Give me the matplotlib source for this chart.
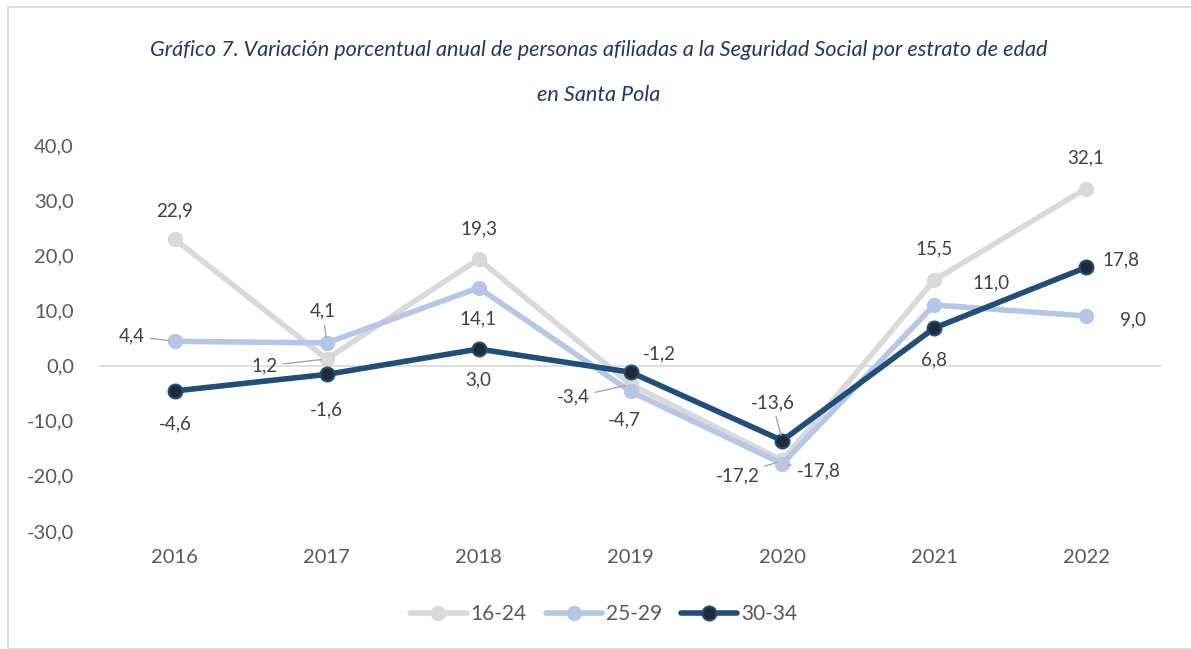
import numpy as np
import matplotlib.pyplot as plt
from matplotlib.patches import Rectangle

# datos: variación porcentual anual por estrato de edad
years = ["2016", "2017", "2018", "2019", "2020", "2021", "2022"]
g16_24 = [22.9, 1.2, 19.3, -3.4, -17.2, 15.5, 32.1]
g25_29 = [4.4, 4.1, 14.1, -4.7, -17.8, 11.0, 9.0]
g30_34 = [-4.6, -1.6, 3.0, -1.2, -13.6, 6.8, 17.8]
names = ["16-24", "25-29", "30-34"]

plt.rcParams['font.family'] = ['Lato', 'DejaVu Sans']

fig = plt.figure(figsize=(11.91, 6.49), dpi=100)
fig.patches.append(Rectangle((8 / 1191, 0), 1.1, 1 - 7 / 649, transform=fig.transFigure,
                             fill=False, edgecolor="#D9D9D9", lw=1.2))
ax = fig.add_axes([99 / 1191, 1 - 531 / 649, (1162 - 99) / 1191, (531 - 145) / 649])

x = np.arange(len(years))
ax.axhline(0, color="#D9D9D9", lw=1.2, zorder=1)

ax.plot(x, g16_24, color="#D9D9D9", lw=4, marker="o", ms=10, label=names[0], zorder=2,
        solid_capstyle="round")
ax.plot(x, g25_29, color="#B4C7E7", lw=4, marker="o", ms=10, label=names[1], zorder=3,
        solid_capstyle="round")
ax.plot(x, g30_34, color="#1F4E79", lw=4, marker="o", ms=10, mfc="#222A35", mec="#1F4E79",
        mew=1.5, label=names[2], zorder=4, solid_capstyle="round")

# offsets (pixels) de las etiquetas y si llevan línea guía
offs = {
    0: [(0, 28, 0), (-62, -7, 1), (0, 30, 0), (-57, -13, 1), (-45, -15, 1), (0, 31, 0), (0, 31, 0)],
    1: [(-43, 5, 1), (-4, 32, 1), (-1, -31, 0), (-6, -28, 0), (36, -7, 1), (57, 22, 0), (47, -4, 0)],
    2: [(0, -33, 0), (0, -35, 0), (0, -31, 0), (29, 18, 0), (-10, 38, 1), (0, -32, 0), (35, 8, 0)],
}
series = [g16_24, g25_29, g30_34]
for s, vals in enumerate(series):
    for i, v in enumerate(vals):
        dx, dy, lead = offs[s][i]
        txt = f"{v:.1f}".replace(".", ",")
        kw = {}
        if lead:
            kw["arrowprops"] = dict(arrowstyle="-", color="#A6A6A6", lw=1, shrinkA=2, shrinkB=4)
        ax.annotate(txt, (i, v), xytext=(dx, dy), textcoords="offset pixels",
                    ha="center", va="center", fontsize=13.5, color="#404040", zorder=5, **kw)

ax.set_xlim(-0.5, len(years) - 0.5)
ax.set_ylim(-30, 40)
ax.set_xticks(x)
ax.set_xticklabels(years)
ax.set_yticks(np.arange(-30, 41, 10))
ax.set_yticklabels([f"{t:.1f}".replace(".", ",") for t in np.arange(-30, 41, 10)])
ax.tick_params(length=0, labelsize=14.5, labelcolor="#595959")
ax.tick_params(axis="x", pad=13)
ax.tick_params(axis="y", pad=18)
for sp in ax.spines.values():
    sp.set_visible(False)

fig.text(0.503, 1 - 50 / 649, "Gráfico 7. Variación porcentual anual de personas afiliadas a la Seguridad Social por estrato de edad",
         ha="center", va="center", fontsize=15.6, style="italic", color="#1F3864")
fig.text(0.503, 1 - 95 / 649, "en Santa Pola", ha="center", va="center", fontsize=15.6,
         style="italic", color="#1F3864")

fig.legend(loc="center", bbox_to_anchor=(0.507, 1 - 614 / 649), ncol=3, frameon=False,
           fontsize=15, labelcolor="#595959", handlelength=2.7, columnspacing=0.9,
           handletextpad=0.2)

fig.savefig("out.png", dpi=100)
